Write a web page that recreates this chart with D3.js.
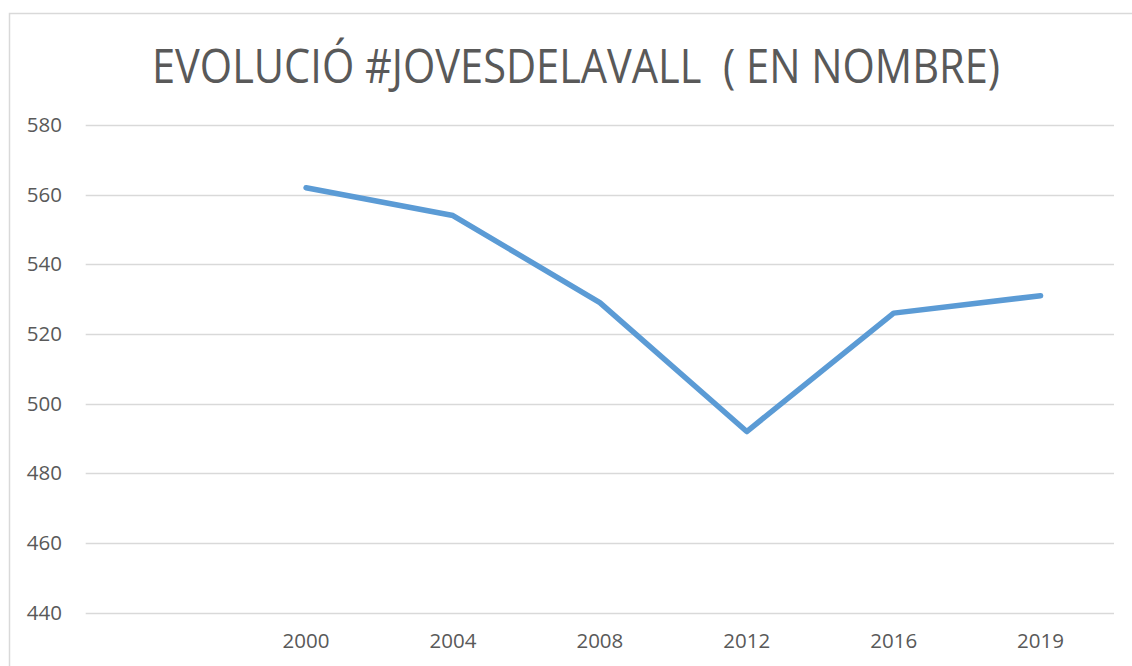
<!DOCTYPE html>
<html>
<head>
<meta charset="utf-8">
<script src="https://cdn.jsdelivr.net/npm/d3@7"></script>
<style>
  body { margin: 0; background: #fff; }
  text { font-family: "Open Sans", sans-serif; fill: #595959; }
</style>
</head>
<body>
<svg id="chart" width="1132" height="666"></svg>
<script>
// data
var years = ['', '2000', '2004', '2008', '2012', '2016', '2019'];
var joves = [null, 562, 554, 529, 492, 526, 531];
var yTicks = [440, 460, 480, 500, 520, 540, 560, 580];
var chartTitle = 'EVOLUCIÓ #JOVESDELAVALL  ( EN NOMBRE)';

var svg = d3.select('#chart');
var width = 1132, height = 666;
var margin = { top: 125, right: 18, bottom: 53.3, left: 85.7 };

// chart area border (left + top visible only)
svg.append('path')
  .attr('d', 'M9.5,' + (height + 2) + 'V13.5H' + (width + 2))
  .attr('fill', 'none')
  .attr('stroke', '#d9d9d9')
  .attr('stroke-width', 1.5);

svg.append('text')
  .attr('x', 576)
  .attr('y', 83)
  .attr('text-anchor', 'middle')
  .attr('font-size', '47px')
  .attr('textLength', 848)
  .attr('lengthAdjust', 'spacingAndGlyphs')
  .style('white-space', 'pre')
  .text(chartTitle);

var xScale = d3.scaleBand()
  .domain(years)
  .range([margin.left, width - margin.right]);

var yScale = d3.scaleLinear()
  .domain([440, 580])
  .range([height - margin.bottom, margin.top]);

// gridlines
svg.append('g')
  .selectAll('line')
  .data(yTicks)
  .enter().append('line')
  .attr('x1', margin.left)
  .attr('x2', width - margin.right)
  .attr('y1', function(d) { return Math.round(yScale(d)) + 0.5; })
  .attr('y2', function(d) { return Math.round(yScale(d)) + 0.5; })
  .attr('stroke', '#d9d9d9')
  .attr('stroke-width', 1.5);

// y axis labels
var yAxis = svg.append('g')
  .attr('transform', 'translate(62,0)')
  .call(d3.axisLeft(yScale).tickValues(yTicks).tickSize(0).tickPadding(0));
yAxis.select('.domain').remove();
yAxis.selectAll('text')
  .attr('font-size', '20.5px')
  .attr('font-family', null)
  .attr('fill', '#595959');

// x axis labels
var xAxis = svg.append('g')
  .attr('transform', 'translate(0,' + (height - margin.bottom) + ')')
  .call(d3.axisBottom(xScale).tickSize(0).tickPadding(21));
xAxis.select('.domain').remove();
xAxis.selectAll('text')
  .attr('font-size', '20.5px')
  .attr('font-family', null)
  .attr('fill', '#595959');

var points = years.map(function(y, i) { return { year: y, value: joves[i] }; });

var line = d3.line()
  .defined(function(d) { return d.value != null; })
  .x(function(d) { return xScale(d.year) + xScale.bandwidth() / 2; })
  .y(function(d) { return yScale(d.value); });

svg.append('path')
  .datum(points)
  .attr('d', line)
  .attr('fill', 'none')
  .attr('stroke', '#5b9bd5')
  .attr('stroke-width', 5.5)
  .attr('stroke-linejoin', 'round')
  .attr('stroke-linecap', 'round');
</script>
</body>
</html>
